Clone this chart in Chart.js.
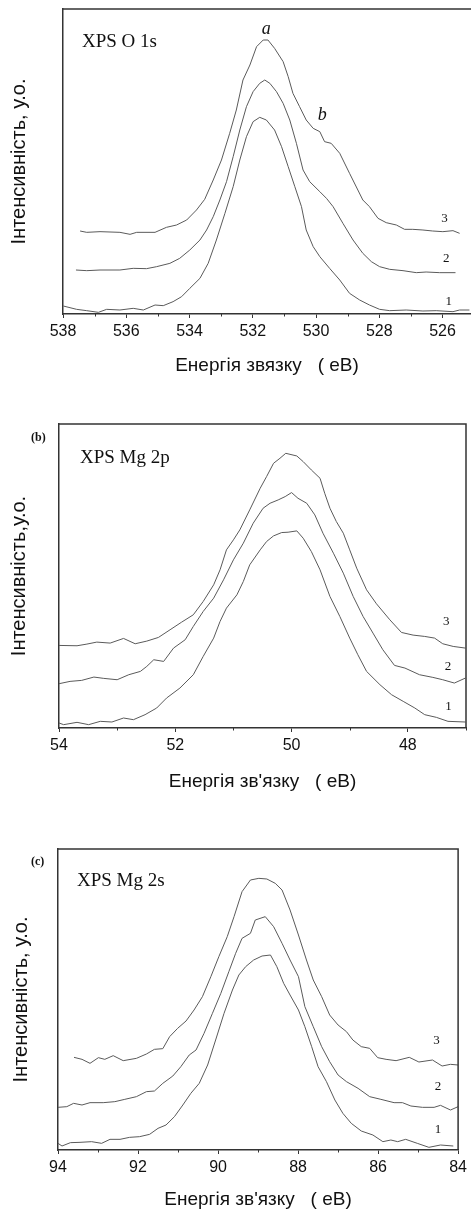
<!DOCTYPE html>
<html>
<head>
<meta charset="utf-8">
<script src="https://cdn.jsdelivr.net/npm/chart.js@4.4.1/dist/chart.umd.min.js"></script>
<style>
  body { margin: 0; background: #fff; width: 471px; height: 1212px; position: relative; overflow: hidden; }
  .panel { position: absolute; left: 0; width: 471px; }
</style>
</head>
<body>
<div class="panel" style="top:0;height:385px"><canvas id="chartO1s"></canvas></div>
<div class="panel" style="top:400px;height:400px"><canvas id="chartMg2p"></canvas></div>
<div class="panel" style="top:820px;height:392px"><canvas id="chartMg2s"></canvas></div>
<script>
// (a) XPS O 1s
const o1sEnergy3 = [537.46,537.25,536.83,536.20,535.88,535.67,535.09,534.73,534.41,534.09,533.78,533.52,533.25,532.99,532.73,532.52,532.31,532.09,531.88,531.67,531.52,531.31,531.04,530.88,530.73,530.52,530.31,530.09,529.88,529.73,529.52,529.25,528.94,528.52,528.31,528.04,527.78,527.46,527.20,526.94,526.62,526.31,525.99,525.67,525.46];
const o1sInt3 = [24.9,24.5,24.7,24.5,23.9,24.5,24.5,26.0,26.7,28.2,31.2,34.4,40.2,46.2,54.2,61.2,70.2,74.7,80.2,82.2,82.2,79.7,75.7,71.2,66.2,62.2,58.2,55.7,54.7,51.7,51.2,48.2,42.2,34.2,32.2,28.7,27.4,26.7,25.4,25.4,25.2,24.9,24.7,25.0,24.2];
const o1sEnergy2 = [537.59,537.25,536.83,536.20,535.78,535.36,535.04,534.62,534.31,533.99,533.67,533.46,533.25,533.04,532.83,532.62,532.41,532.20,531.99,531.78,531.62,531.46,531.25,531.04,530.83,530.62,530.41,530.20,529.88,529.67,529.46,529.15,528.83,528.52,528.25,527.99,527.67,527.25,526.83,526.52,526.09,525.59];
const o1sInt2 = [13.2,13.0,13.2,13.2,13.7,13.6,14.2,15.2,16.7,19.2,22.2,25.2,29.2,34.2,39.7,47.2,55.2,62.2,66.7,69.2,70.2,69.2,66.7,63.2,58.2,51.2,43.2,39.7,36.7,34.7,32.2,27.2,22.2,18.2,15.7,14.2,13.4,13.0,12.4,12.6,12.4,12.4];
const o1sEnergy1 = [537.99,537.57,537.25,536.88,536.62,536.20,535.78,535.46,535.09,534.83,534.52,534.25,533.99,533.67,533.41,533.15,532.88,532.62,532.41,532.20,531.99,531.78,531.57,531.31,531.09,530.88,530.67,530.46,530.31,530.09,529.88,529.57,529.25,528.94,528.62,528.31,527.99,527.67,527.15,526.62,526.20,525.67,525.46,525.15];
const o1sInt1 = [2.4,1.4,1.0,0.5,1.4,1.2,1.7,1.2,2.7,2.5,3.7,5.2,7.7,10.7,15.2,22.2,30.2,38.2,46.2,53.2,57.7,59.0,58.2,55.2,50.2,44.2,38.2,32.2,25.2,20.2,17.2,13.7,10.2,6.2,4.2,2.7,1.4,1.0,1.2,0.9,1.0,0.7,1.2,1.2];

// (b) XPS Mg 2p
const mg2pEnergy3 = [54.00,53.69,53.52,53.35,53.12,52.89,52.69,52.49,52.29,52.09,51.89,51.69,51.52,51.34,51.23,51.12,51.00,50.89,50.72,50.54,50.43,50.31,50.20,50.10,49.91,49.80,49.66,49.51,49.43,49.34,49.23,49.11,49.00,48.88,48.71,48.54,48.31,48.11,47.91,47.71,47.54,47.40,47.22,47.01];
const mg2pInt3 = [24.8,24.7,25.2,25.8,25.5,26.9,25.3,26.1,27.2,29.5,31.8,34.0,38.0,43.0,47.5,53.5,56.5,59.5,65.5,72.0,75.5,79.5,81.0,82.5,81.7,80.0,77.5,75.0,70.5,66.0,62.0,58.5,53.5,48.0,41.5,37.3,32.5,28.7,27.9,27.5,27.0,25.3,24.5,24.0];
const mg2pEnergy2 = [54.00,53.81,53.61,53.40,53.23,53.00,52.80,52.60,52.49,52.37,52.20,52.03,51.83,51.69,51.52,51.34,51.17,51.00,50.83,50.66,50.49,50.37,50.23,50.11,50.00,49.89,49.74,49.60,49.46,49.28,49.11,48.94,48.77,48.60,48.43,48.23,48.05,47.80,47.57,47.40,47.20,47.01];
const mg2pInt2 = [13.3,14.0,14.3,15.3,14.9,14.5,16.0,17.0,18.5,20.5,20.0,24.0,26.5,30.5,35.0,39.0,44.5,50.5,55.5,61.5,66.0,67.5,68.5,69.5,70.7,69.0,67.5,64.0,58.5,52.5,46.5,39.5,33.5,28.5,23.5,18.8,18.0,16.0,15.2,14.5,13.5,15.0];
const mg2pEnergy1 = [54.00,53.92,53.69,53.49,53.29,53.09,52.89,52.72,52.52,52.32,52.15,51.92,51.69,51.52,51.34,51.23,51.12,50.94,50.83,50.72,50.54,50.43,50.31,50.17,50.06,49.91,49.80,49.66,49.51,49.34,49.17,49.00,48.86,48.71,48.48,48.28,48.08,47.88,47.71,47.51,47.31,47.01];
const mg2pInt1 = [1.5,1.0,1.7,1.0,2.0,1.8,3.0,2.5,4.0,6.0,9.0,12.0,16.0,21.5,27.0,32.0,36.0,40.0,44.0,49.0,53.5,56.0,57.7,58.7,58.8,59.2,57.0,53.0,47.5,39.5,33.5,27.0,22.0,17.0,13.0,10.0,8.0,6.0,4.0,3.2,2.0,1.8];

// (c) XPS Mg 2s
const mg2sEnergy3 = [93.60,93.40,93.20,92.99,92.83,92.62,92.37,92.04,91.79,91.59,91.38,91.21,91.01,90.80,90.60,90.39,90.18,89.98,89.77,89.60,89.40,89.19,88.98,88.78,88.57,88.40,88.20,87.99,87.79,87.62,87.41,87.21,87.00,86.79,86.63,86.42,86.21,86.01,85.80,85.55,85.22,84.98,84.64,84.40,84.19,84.00];
const mg2sInt3 = [27.8,27.2,26.0,27.7,27.2,28.3,26.8,27.5,28.8,30.2,30.4,34.0,36.5,38.7,42.0,46.0,52.0,58.0,64.0,70.0,77.5,81.0,81.5,81.3,80.0,78.0,72.0,64.5,57.0,51.0,46.0,40.5,37.5,35.5,33.0,31.0,30.5,27.7,27.2,26.8,27.8,26.4,27.0,25.2,25.7,25.5];
const mg2sEnergy2 = [94.00,93.78,93.61,93.40,93.20,92.87,92.58,92.33,92.04,91.79,91.59,91.38,91.13,90.93,90.72,90.55,90.35,90.14,89.93,89.73,89.56,89.40,89.19,89.07,88.82,88.61,88.40,88.20,87.99,87.83,87.62,87.41,87.21,87.00,86.79,86.50,86.21,85.93,85.60,85.39,85.18,84.89,84.60,84.44,84.19,84.00];
const mg2sInt2 = [12.8,13.0,14.0,13.5,14.2,14.2,14.5,15.2,16.0,17.5,17.7,20.0,22.2,25.0,28.5,30.0,35.0,41.0,47.0,53.5,59.0,63.5,65.0,69.0,70.0,67.0,62.0,57.0,52.0,43.0,37.0,31.0,26.5,22.5,20.5,18.5,16.0,15.2,14.2,14.2,13.2,12.8,12.8,13.4,12.0,13.0];
const mg2sEnergy1 = [94.00,93.90,93.69,93.45,93.16,92.91,92.70,92.45,92.21,91.96,91.71,91.50,91.30,91.09,90.88,90.68,90.47,90.26,90.06,89.85,89.64,89.48,89.31,89.11,88.90,88.69,88.53,88.36,88.20,87.99,87.83,87.66,87.50,87.29,87.08,86.88,86.67,86.42,86.13,85.88,85.68,85.51,85.31,85.02,84.73,84.44,84.12];
const mg2sInt1 = [2.0,1.2,2.2,2.3,2.5,2.0,3.2,3.2,3.8,4.0,4.7,6.5,7.5,10.0,13.5,17.0,20.0,25.5,33.0,41.0,48.0,52.5,55.0,57.0,58.2,58.5,55.0,50.0,46.5,42.0,37.0,31.0,25.0,20.5,15.0,11.0,8.0,5.7,4.5,2.5,3.0,2.5,3.2,2.0,0.8,1.5,1.2];

const curveNames = ['1', '2', '3'];

const AXIS_COLOR = '#333';
const LINE_COLOR = '#5a5a5a';
const SANS = "'Liberation Sans', Arial, sans-serif";
const SERIF = "'Liberation Serif', 'Times New Roman', serif";

// top/right frame edges, minor ticks and the text notes
const panelDecor = {
  id: 'panelDecor',
  afterDraw(chart, args, opts) {
    const { ctx, chartArea: ca, scales: { x, y } } = chart;
    ctx.save();
    ctx.strokeStyle = AXIS_COLOR;
    ctx.lineWidth = 1.5;
    ctx.beginPath();
    ctx.moveTo(ca.left, ca.top);
    ctx.lineTo(ca.right, ca.top);
    if (opts.rightEdge) ctx.lineTo(ca.right, ca.bottom);
    ctx.stroke();

    ctx.lineWidth = 1;
    for (let v = Math.ceil(x.min); v <= x.max; v++) {
      if (v % 2 === 0) continue;
      const px = Math.round(x.getPixelForValue(v)) + 0.5;
      ctx.beginPath();
      ctx.moveTo(px, ca.bottom);
      ctx.lineTo(px, ca.bottom + 2.5);
      ctx.stroke();
    }

    ctx.fillStyle = '#111';
    opts.notes.forEach(n => {
      ctx.font = n.font;
      if (n.e !== undefined) {
        ctx.textAlign = 'center';
        ctx.textBaseline = 'middle';
        ctx.fillText(n.text, x.getPixelForValue(n.e), y.getPixelForValue(n.v));
      } else {
        ctx.textAlign = 'left';
        ctx.textBaseline = 'alphabetic';
        ctx.fillText(n.text, n.px, n.py);
      }
    });
    ctx.restore();
  }
};

function makePanel(id, p) {
  const datasets = p.series.map((s, i) => ({
    label: curveNames[i],
    data: s[0].map((e, k) => ({ x: e, y: s[1][k] })),
    borderColor: LINE_COLOR,
    borderWidth: 1,
    pointRadius: 0,
    tension: 0,
    fill: false
  }));

  return new Chart(document.getElementById(id), {
    type: 'line',
    data: { datasets },
    plugins: [panelDecor],
    options: {
      responsive: true,
      maintainAspectRatio: false,
      animation: false,
      layout: { padding: { top: p.top, right: p.right, left: 0, bottom: 0 } },
      plugins: {
        legend: { display: false },
        tooltip: { enabled: false },
        panelDecor: { rightEdge: p.rightEdge, notes: p.notes }
      },
      scales: {
        x: {
          type: 'linear',
          reverse: true,
          min: p.xMin,
          max: p.xMax,
          afterFit: s => { s.height = p.xHeight; },
          ticks: {
            stepSize: 2,
            includeBounds: false,
            autoSkip: false,
            maxRotation: 0,
            padding: 4,
            color: '#111',
            font: { family: SANS, size: 16 },
            callback: v => v
          },
          grid: { drawOnChartArea: false, drawTicks: true, tickLength: 4, color: AXIS_COLOR, tickWidth: 1 },
          border: { display: true, color: AXIS_COLOR, width: 1.5 },
          title: {
            display: true,
            text: p.xTitle,
            color: '#111',
            font: { family: SANS, size: 19 },
            padding: { top: 0, bottom: p.xTitlePad }
          }
        },
        y: {
          min: 0,
          max: p.yMax,
          afterFit: s => { s.width = p.yWidth; },
          ticks: { display: false },
          grid: { display: false, drawTicks: false },
          border: { display: true, color: AXIS_COLOR, width: 1.5 },
          title: {
            display: true,
            text: p.yTitle,
            color: '#111',
            font: { family: SANS, size: 20 },
            padding: { top: p.yTitlePad, bottom: 0 }
          }
        }
      }
    }
  });
}

makePanel('chartO1s', {
  series: [[o1sEnergy1, o1sInt1], [o1sEnergy2, o1sInt2], [o1sEnergy3, o1sInt3]],
  xMin: 525.1, xMax: 538, yMax: 91.5,
  top: 9, right: 0, yWidth: 63, xHeight: 71, rightEdge: false,
  xTitle: 'Енергія звязку   ( еВ)', xTitlePad: 7.6,
  yTitle: 'Інтенсивність, у.о.', yTitlePad: 7.3,
  notes: [
    { text: 'XPS O 1s', font: '19px ' + SERIF, px: 82, py: 46.5 },
    { text: 'a', font: 'italic 18px ' + SERIF, e: 531.57, v: 85.5 },
    { text: 'b', font: 'italic 18px ' + SERIF, e: 529.8, v: 59.7 },
    { text: '3', font: '13px ' + SERIF, e: 525.94, v: 28.7 },
    { text: '2', font: '13px ' + SERIF, e: 525.88, v: 16.7 },
    { text: '1', font: '13px ' + SERIF, e: 525.8, v: 3.7 }
  ]
});

makePanel('chartMg2p', {
  series: [[mg2pEnergy1, mg2pInt1], [mg2pEnergy2, mg2pInt2], [mg2pEnergy3, mg2pInt3]],
  xMin: 47, xMax: 54, yMax: 91.3,
  top: 24, right: 5, yWidth: 59, xHeight: 72, rightEdge: true,
  xTitle: "Енергія зв'язку   ( еВ)", xTitlePad: 6.6,
  yTitle: 'Інтенсивність,у.о.', yTitlePad: 7,
  notes: [
    { text: 'XPS Mg 2p', font: '19px ' + SERIF, px: 80, py: 62.5 },
    { text: '(b)', font: 'bold 12px ' + SERIF, px: 31, py: 41 },
    { text: '3', font: '13px ' + SERIF, e: 47.34, v: 32 },
    { text: '2', font: '13px ' + SERIF, e: 47.31, v: 18.5 },
    { text: '1', font: '13px ' + SERIF, e: 47.3, v: 6.5 }
  ]
});

makePanel('chartMg2s', {
  series: [[mg2sEnergy1, mg2sInt1], [mg2sEnergy2, mg2sInt2], [mg2sEnergy3, mg2sInt3]],
  xMin: 84, xMax: 94, yMax: 90.3,
  top: 29, right: 10, yWidth: 58, xHeight: 62, rightEdge: true,
  xTitle: "Енергія зв'язку   ( еВ)", xTitlePad: 0.6,
  yTitle: 'Інтенсивність, у.о.', yTitlePad: 9.7,
  notes: [
    { text: 'XPS Mg 2s', font: '19px ' + SERIF, px: 77, py: 65.7 },
    { text: '(c)', font: 'bold 12px ' + SERIF, px: 31, py: 45 },
    { text: '3', font: '13px ' + SERIF, e: 84.54, v: 32.8 },
    { text: '2', font: '13px ' + SERIF, e: 84.5, v: 19 },
    { text: '1', font: '13px ' + SERIF, e: 84.5, v: 6.2 }
  ]
});
</script>
</body>
</html>
